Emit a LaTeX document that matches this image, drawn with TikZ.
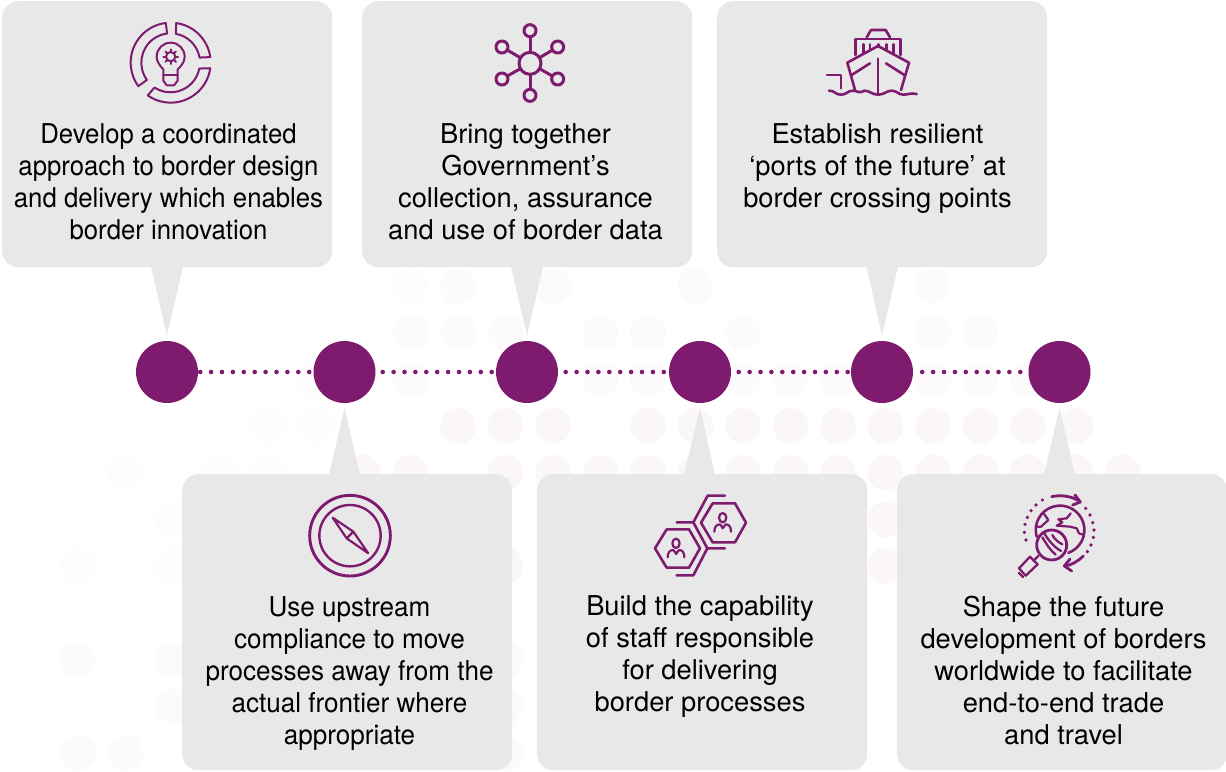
\documentclass[tikz,border=0pt]{standalone}
\usepackage{fontspec}
\setmainfont{TeX Gyre Heros}
\usetikzlibrary{calc}
\definecolor{plum}{HTML}{7F1B6E}
\definecolor{boxgrey}{HTML}{E8E8E9}
\definecolor{dotA}{HTML}{FAF6FA}
\definecolor{dotB}{HTML}{FCFAFC}
\definecolor{dotC}{HTML}{FDFDFD}
\tikzset{
  panel/.style={draw=none,fill=boxgrey,rounded corners=16pt,minimum width=330pt,inner sep=0pt,anchor=north west},
  stop/.style={circle,fill=plum,minimum size=62pt,inner sep=0pt},
  pointer/.style={fill=boxgrey},
  caption/.style={align=center,text=black,font=\fontsize{27.3}{32}\selectfont,inner sep=0pt},
  narrow caption/.style={caption,transform shape,xscale=#1},
  dotted link/.style={plum,line width=4.6pt,line cap=round,dash pattern=on 0pt off 10.9pt,shorten <=#1},
  icon/.style={draw=plum,line width=2.6pt,line cap=round,line join=round},
  thin icon/.style={draw=plum,line width=2pt,line cap=round,line join=round},
  crop/.style={shift={#1},x=0.33333pt,y=-0.33333pt}
}
\begin{document}
\begin{tikzpicture}[x=1pt,y=-1pt]
\useasboundingbox (0,0) rectangle (1226,771);
\fill[white] (0,0) rectangle (1226,771);
% background dot field
\foreach \r/\list/\c in {
  0/{7}/dotC,0/{8,10,13,18}/dotB,
  1/{7,8,9}/dotB,1/{11,12,14,18,19}/dotB,
  2/{5,6}/dotC,2/{7,9,11,12,14,15,16,18,19,20}/dotB,
  3/{4,5}/dotC,3/{8,9,10,12,13,14,15,16,17,18,19,20,21}/dotA,
  4/{1,3,4}/dotC,4/{6,7,9,10,11,12,13,14,15,16,17,18,19,20,21,22}/dotA,
  5/{2}/dotC,5/{17}/dotA,
  6/{0,2}/dotC,6/{9,17}/dotA,
  8/{0,2,9}/dotB,
  9/{2,9}/dotB,
  10/{0,1,9}/dotB}{
  \foreach \i in \list {
    \fill[\c] ({78+47.5*\i},{286+46.67*\r}) circle[x radius=17.8pt,y radius=17.8pt];
  }
}
% panels
\node[panel,minimum height=266pt] (b1) at (2,1) {};
\node[panel,minimum height=266pt] (b2) at (362,1) {};
\node[panel,minimum height=266pt] (b3) at (717,1) {};
\node[panel,minimum height=296pt] (b4) at (182,474) {};
\node[panel,minimum height=296pt] (b5) at (537,474) {};
\node[panel,minimum height=296pt] (b6) at (897,474) {};
% stops
\node[stop] (c1) at (167,372) {};
\node[stop] (c2) at (344.5,372) {};
\node[stop] (c3) at (527,372) {};
\node[stop] (c4) at (700,372) {};
\node[stop] (c5) at (882,372) {};
\node[stop] (c6) at (1059.5,372) {};
% pointers
\fill[pointer] (151,266.5) -- ([yshift=5pt]c1.north) -- (183,266.5) -- cycle;
\fill[pointer] (511,266.5) -- ([yshift=5pt]c3.north) -- (543,266.5) -- cycle;
\fill[pointer] (866.5,266.5) -- ([yshift=5pt]c5.north) -- (898,266.5) -- cycle;
\fill[pointer] (329,474.5) -- ([yshift=-5pt]c2.south) -- (360,474.5) -- cycle;
\fill[pointer] (684,474.5) -- ([yshift=-5pt]c4.south) -- (715,474.5) -- cycle;
\fill[pointer] (1044,474.5) -- ([yshift=-5pt]c6.south) -- (1075,474.5) -- cycle;
% links
\draw[dotted link=2pt] (c1.east) -- (c2.west);
\draw[dotted link=7pt] (c2.east) -- (c3.west);
\draw[dotted link=7.5pt] (c3.east) -- (c4.west);
\draw[dotted link=7.5pt] (c4.east) -- (c5.west);
\draw[dotted link=9pt] (c5.east) -- (c6.west);
% captions
\node[narrow caption=0.943] (t1) at (168.5,182) {Develop a coordinated\\approach to border design\\and delivery which enables\\border innovation};
\node[caption] (t2) at (525.5,182) {Bring together\\Government’s\\collection, assurance\\and use of border data};
\node[caption] (t3) at (877.5,168.5) {Establish resilient\\‘ports of the future’ at\\border crossing points};
\node[narrow caption=0.955] (t4) at (349.5,674) {Use upstream\\compliance to move\\processes away from the\\actual frontier where\\appropriate};
\node[caption] (t5) at (700,657) {Build the capability\\of staff responsible\\for delivering\\border processes};
\node[caption] (t6) at (1063.5,670.2) {Shape the future\\development of borders\\worldwide to facilitate\\end-to-end trade\\and travel};
% icon 1: bulb in ring
\begin{scope}[crop={(110,10)}]
  \draw[thin icon] (182,158) ++(-97:120) arc[start angle=-97,end angle=-216,radius=120] -- ($(182,158)+(-216:88)$) arc[start angle=-216,end angle=-97,radius=88] -- cycle;
  \draw[thin icon] (182,158) ++(-82:120) arc[start angle=-82,end angle=-8,radius=120] -- ($(182,158)+(-10:88)$) arc[start angle=-10,end angle=-80,radius=88] -- cycle;
  \draw[thin icon] (182,158) ++(8:120) arc[start angle=8,end angle=125,radius=120] -- ($(182,158)+(123:89)$) arc[start angle=123,end angle=11,radius=88] -- cycle;
  \draw[thin icon] (160,195) -- (160,178) .. controls (150,168) and (140,155) .. (140,140) arc[start angle=180,end angle=360,radius=42] .. controls (224,155) and (214,168) .. (203,178) -- (203,212) -- (192,226) -- (170,226) -- (160,212) -- cycle;
  \draw[thin icon] (160,195) -- (203,195);
  \draw[thin icon] (182,140) circle[radius=14];
  \foreach \a in {0,45,...,315} \draw[thin icon] (182,140) ++(\a:15) -- ++(\a:7);
\end{scope}
% icon 2: network
\begin{scope}[crop={(480,15)}]
  \draw[icon,line width=3pt] (150,145) circle[radius=33];
  \foreach \p/\q in {150/47,66/96,233/96,66/192,233/192,150/241}{
    \draw[icon,line width=3pt] (\p,\q) circle[radius=18];
    \draw[icon,line width=3pt,shorten <=11pt,shorten >=6pt] (150,145) -- (\p,\q);
  }
\end{scope}
% icon 3: ship
\begin{scope}[crop={(815,20)}]
  \draw[icon] (155,52) -- (168,30) -- (212,30) -- (225,52);
  \draw[icon] (122,105) -- (122,57) -- (257,57) -- (257,105);
  \draw[icon] (145,73) -- (145,100) (165,73) -- (165,88) (190,73) -- (190,80) (215,73) -- (215,88) (235,73) -- (235,100);
  \draw[icon] (120,210) -- (97,128) -- (189,78) -- (282,128) -- (258,210);
  \draw[icon] (189,116) -- (189,220);
  \draw[icon] (110,165) -- (165,130) (268,165) -- (213,130);
  \draw[icon] (36,165) -- (78,165) -- (78,205);
  \draw[icon] (42,212) .. controls (60,212) and (60,224) .. (78,224) .. controls (95,224) and (98,212) .. (113,212) .. controls (128,212) and (130,222) .. (148,212) .. controls (165,212) and (170,224) .. (189,224) .. controls (208,224) and (215,212) .. (230,212) .. controls (245,212) and (250,224) .. (265,224) .. controls (280,224) and (285,218) .. (305,222);
\end{scope}
% icon 4: compass
\begin{scope}[crop={(300,485)}]
  \draw[icon,line width=2.9pt] (150,152) circle[radius=121];
  \draw[icon,line width=2.4pt] (150,152) circle[radius=92];
  \draw[icon,line width=2.2pt] (98,98) -- (160,140) -- (205,205) -- (140,160) -- cycle (140,160) -- (160,140);
\end{scope}
% icon 5: hexagons with people
\begin{scope}[crop={(645,485)}]
  \draw[icon] (168,113) -- (203,55) -- (270,55) -- (303,113) -- (270,172) -- (203,172) -- cycle;
  \draw[icon] (30,190) -- (65,133) -- (132,133) -- (165,190) -- (132,248) -- (65,248) -- cycle;
  \draw[icon] (240,32) -- (188,32) -- (145,112) -- (95,112);
  \draw[icon] (145,112) -- (187,190) -- (240,190);
  \draw[icon] (187,190) -- (145,271) -- (95,271);
  \foreach \dx/\dy in {0/0,-140/77}{
    \begin{scope}[shift={(\dx,\dy)}]
      \draw[thin icon,line width=2.2pt] (233,98) circle[x radius=11,y radius=14];
      \draw[thin icon,line width=2.2pt] (208,140) .. controls (208,125) and (215,118) .. (225,118) .. controls (230,122) and (232,128) .. (233,130) .. controls (235,128) and (238,122) .. (242,118) .. controls (252,118) and (258,125) .. (258,140);
    \end{scope}
  }
\end{scope}
% icon 6: globe and lens
\begin{scope}[crop={(1005,485)}]
  \draw[icon] (95,155) arc[start angle=164,end angle=430,radius=73];
  \draw[icon,line width=2.8pt] (140,180) circle[radius=45];
  \draw[thin icon,line width=2.3pt] (112,157) .. controls (125,178) and (135,195) .. (152,209);
  \draw[thin icon,line width=2.3pt] (118,145) .. controls (130,165) and (145,185) .. (168,198);
  \draw[thin icon,line width=2.3pt] (142,150) .. controls (148,162) and (160,172) .. (172,178);
  \draw[thin icon,line width=2.3pt] (100,213) -- (85,228);
  \draw[thin icon,line width=2.3pt] (75,215) -- (98,238) -- (62,272) -- (42,250) -- cycle;
  \draw[thin icon,line width=2.3pt] (42,264) -- (54,276);
  \draw[icon,line width=2.8pt] (140,35) .. controls (170,28) and (205,35) .. (225,50);
  \draw[icon,line width=2.8pt] (210,30) -- (226,51) -- (203,60);
  \draw[icon,line width=2.8pt] (235,213) .. controls (220,228) and (200,240) .. (180,243);
  \draw[icon,line width=2.8pt] (195,222) -- (178,243) -- (200,258);
  \foreach \p/\q in {112/45,93/60,78/77,67/97,60/118,58/142,63/165,242/70,255/90,263/113,267/135,265/157,258/180,247/200}
    \fill[plum] (\p,\q) circle[radius=5.5];
  \draw[thin icon,line width=2.2pt] (116,85) -- (130,105) -- (108,125) -- (92,125);
  \draw[thin icon,line width=2.2pt] (197,85) -- (185,100) -- (160,103) -- (172,112) -- (155,122) -- (195,125) -- (215,130) -- (222,145) -- (237,150);
\end{scope}
\end{tikzpicture}
\end{document}
